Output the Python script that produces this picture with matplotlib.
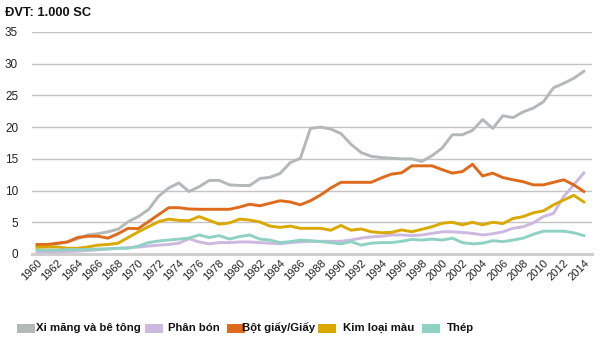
import matplotlib
matplotlib.use("Agg")
import matplotlib.pyplot as plt
from matplotlib.patches import Rectangle

years = list(range(1960, 2015))

xi_mang = [1.3, 1.4, 1.6, 1.9, 2.4, 3.0, 3.2, 3.5, 3.9, 5.1, 5.9, 7.0, 9.1, 10.4, 11.2,
           9.85, 10.6, 11.6, 11.6, 10.9, 10.8, 10.8, 11.9, 12.1, 12.7, 14.4, 15.1, 19.8, 20.0,
           19.7, 19.0, 17.3, 16.0, 15.4, 15.2, 15.1, 15.0, 15.0, 14.6, 15.5, 16.7, 18.8, 18.8,
           19.5, 21.2, 19.8, 21.8, 21.5, 22.4, 23.0, 24.0, 26.2, 26.9, 27.7, 28.8]

phan_bon = [0.3, 0.3, 0.35, 0.4, 0.45, 0.55, 0.65, 0.8, 0.9, 1.0, 1.1, 1.25, 1.4, 1.5, 1.7,
            2.4, 1.9, 1.6, 1.8, 1.8, 1.9, 1.9, 1.8, 1.7, 1.6, 1.8, 1.9, 2.0, 2.0,
            2.0, 2.0, 2.2, 2.5, 2.7, 2.8, 3.0, 3.0, 2.9, 3.0, 3.25, 3.5, 3.5, 3.4,
            3.25, 3.0, 3.2, 3.5, 4.05, 4.3, 4.9, 5.9, 6.4, 9.05, 10.9, 12.8]

bot_giay = [1.5, 1.5, 1.7, 1.9, 2.6, 2.8, 2.8, 2.5, 3.2, 4.05, 4.0, 5.1, 6.2, 7.3, 7.3,
            7.1, 7.05, 7.05, 7.05, 7.05, 7.4, 7.85, 7.6, 8.0, 8.4, 8.2, 7.75, 8.4, 9.3,
            10.4, 11.3, 11.3, 11.3, 11.3, 12.0, 12.6, 12.8, 13.9, 13.9, 13.9, 13.3, 12.75, 13.0,
            14.15, 12.3, 12.75, 12.05, 11.7, 11.4, 10.9, 10.9, 11.3, 11.7, 10.9, 9.85]

kim_loai = [1.05, 1.1, 1.1, 0.9, 0.9, 1.1, 1.4, 1.5, 1.7, 2.6, 3.5, 4.3, 5.1, 5.5, 5.3,
            5.25, 5.9, 5.3, 4.7, 4.9, 5.5, 5.35, 5.05, 4.4, 4.2, 4.4, 4.05, 4.05, 4.05,
            3.75, 4.5, 3.75, 3.95, 3.5, 3.35, 3.4, 3.8, 3.5, 3.9, 4.3, 4.85, 5.0, 4.6,
            5.0, 4.6, 5.0, 4.8, 5.6, 5.9, 6.5, 6.8, 7.75, 8.5, 9.25, 8.2]

thep = [0.6, 0.6, 0.6, 0.7, 0.7, 0.7, 0.8, 0.8, 0.9, 0.9, 1.25, 1.8, 2.05, 2.2, 2.35,
        2.5, 3.0, 2.6, 2.9, 2.35, 2.75, 3.0, 2.35, 2.2, 1.8, 1.95, 2.2, 2.1, 1.95,
        1.8, 1.6, 1.95, 1.4, 1.7, 1.8, 1.8, 2.0, 2.3, 2.2, 2.35, 2.2, 2.5, 1.8,
        1.6, 1.7, 2.1, 1.95, 2.2, 2.5, 3.1, 3.6, 3.6, 3.6, 3.35, 2.9]

series = [
    ("Xi măng và bê tông", xi_mang, "#b3b8b8"),
    ("Phân bón", phan_bon, "#cdb8df"),
    ("Bột giấy/Giấy", bot_giay, "#e06a1c"),
    ("Kim loại màu", kim_loai, "#dba800"),
    ("Thép", thep, "#8fd2c4"),
]

yticks = [0, 5, 10, 15, 20, 25, 30, 35]
xticks = list(range(1960, 2015, 2))

W, H = 600, 346
fig = plt.figure(figsize=(6.0, 3.46), dpi=100)
ax = fig.add_axes([32 / W, 1 - 254 / H, (592 - 32) / W, (254 - 32) / H])

for name, vals, col in series:
    ax.plot(years, vals, color=col, lw=2.1, solid_joinstyle="round", zorder=3)

ax.set_xlim(1959.5, 2014.8)
ax.set_ylim(0, 35)
ax.set_yticks(yticks)
ax.set_xticks(xticks)
ax.set_xticklabels([str(x) for x in xticks], rotation=45, ha="right", va="top",
                   rotation_mode="anchor", fontsize=8, family="Liberation Sans",
                   color="#222222")
ax.set_yticklabels([str(y) for y in yticks], fontsize=8.5, family="Liberation Sans",
                   color="#222222")
ax.tick_params(axis="both", length=0)
ax.tick_params(axis="y", pad=10)
ax.tick_params(axis="x", pad=3)

ax.grid(axis="y", color="#c4c4c4", lw=1.0, zorder=0)
ax.set_axisbelow(True)
for side in ["top", "right", "left"]:
    ax.spines[side].set_visible(False)
ax.spines["bottom"].set_color("#cfcfcf")
ax.spines["bottom"].set_linewidth(2.2)

bold_font = ["Liberation Sans", "DejaVu Sans"]

fig.text(5 / W, 1 - 13 / H, "ĐVT: 1.000 SC", fontsize=9.3, fontweight="bold",
         family=bold_font, ha="left", va="center", color="#111111")

# legend row along the bottom
patch_x = [17, 145, 227, 318, 422]
text_x = [36, 168, 242, 343, 447]
for (name, vals, col), px, tx in zip(series, patch_x, text_x):
    fig.patches.append(Rectangle((px / W, 1 - 333 / H), 18 / W, 9 / H,
                                 transform=fig.transFigure, color=col, lw=0))
    fig.text(tx / W, 1 - 328 / H, name, fontsize=8.2, fontweight="bold",
             family=bold_font, ha="left", va="center", color="#111111")

fig.savefig("out.png", dpi=100)
